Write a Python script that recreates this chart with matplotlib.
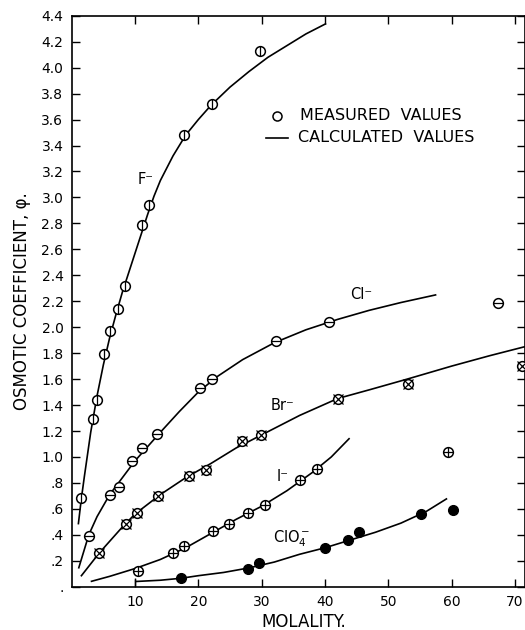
import numpy as np
import matplotlib as mpl
mpl.use('Agg')
import matplotlib.pyplot as plt

# measured values (molality, osmotic coefficient)
F_m = [1.47, 3.41, 4.04, 5.1, 6.05, 7.36, 8.42, 11.1, 12.2, 17.8, 22.1, 29.8]
F_phi = [0.68, 1.29, 1.44, 1.79, 1.97, 2.14, 2.32, 2.79, 2.94, 3.48, 3.72, 4.13]

Cl_m = [2.66, 6.0, 7.4, 9.6, 11.1, 13.5, 20.2, 22.1, 32.3, 40.6, 67.4]
Cl_phi = [0.39, 0.71, 0.77, 0.97, 1.07, 1.18, 1.53, 1.60, 1.89, 2.04, 2.19]

Br_m = [4.35, 8.5, 10.3, 13.6, 18.6, 21.2, 26.9, 29.9, 42.0, 53.1, 71.1]
Br_phi = [0.26, 0.48, 0.57, 0.70, 0.85, 0.90, 1.12, 1.17, 1.45, 1.56, 1.70]

I_m = [10.4, 16.0, 17.8, 22.3, 24.8, 27.9, 30.6, 36.0, 38.8, 59.4]
I_phi = [0.12, 0.26, 0.31, 0.43, 0.48, 0.57, 0.63, 0.82, 0.91, 1.04]

ClO4_m = [17.25, 27.9, 29.6, 40.0, 43.7, 45.3, 55.2, 60.2]
ClO4_phi = [0.07, 0.14, 0.18, 0.30, 0.36, 0.42, 0.56, 0.59]

# calculated curves
F_calc_m = [1.04, 1.5, 2.0, 3.0, 4.0, 5.0, 6.0, 7.0, 8.0, 9.0, 10.0, 11.0, 12.0, 13.0, 14.0,
            16.0, 18.0, 20.0, 22.0, 25.0, 28.0, 31.0, 34.0, 37.0, 40.2]
F_calc_phi = [0.48, 0.67, 0.85, 1.19, 1.47, 1.71, 1.92, 2.10, 2.27, 2.42, 2.57, 2.72, 2.87, 3.01, 3.13,
              3.32, 3.48, 3.60, 3.71, 3.85, 3.97, 4.08, 4.17, 4.26, 4.34]

Cl_calc_m = [1.08, 2.7, 4.0, 6.0, 8.0, 10.0, 12.0, 14.0, 17.0, 20.0, 23.0, 27.0, 32.0, 37.0, 42.0, 47.0, 52.0, 57.6]
Cl_calc_phi = [0.14, 0.40, 0.54, 0.71, 0.84, 0.97, 1.08, 1.19, 1.35, 1.50, 1.62, 1.75, 1.88, 1.98, 2.06, 2.13, 2.19, 2.25]

Br_calc_m = [1.45, 4.35, 8.0, 10.0, 14.0, 18.0, 22.0, 26.0, 30.0, 36.0, 42.0, 47.2, 53.0, 60.0, 66.0, 71.6]
Br_calc_phi = [0.08, 0.26, 0.46, 0.56, 0.71, 0.84, 0.95, 1.07, 1.17, 1.32, 1.45, 1.52, 1.60, 1.70, 1.78, 1.85]

I_calc_m = [3.0, 6.0, 10.0, 14.0, 18.0, 22.0, 26.0, 30.0, 34.0, 38.0, 41.0, 43.9]
I_calc_phi = [0.04, 0.08, 0.14, 0.21, 0.30, 0.41, 0.52, 0.62, 0.74, 0.88, 1.00, 1.145]

ClO4_calc_m = [10.0, 14.0, 17.25, 20.0, 24.0, 28.0, 32.0, 36.0, 40.0, 44.0, 48.0, 52.0, 56.0, 59.3]
ClO4_calc_phi = [0.04, 0.05, 0.065, 0.085, 0.11, 0.145, 0.19, 0.25, 0.30, 0.36, 0.42, 0.49, 0.58, 0.68]

x_ticks = [10, 20, 30, 40, 50, 60, 70]
y_ticks = [round(0.2 * i, 1) for i in range(23)]

ion_labels = ['F⁻', 'Cl⁻', 'Br⁻', 'I⁻', 'ClO$_4^-$']
label_pos = [(11.6, 3.14), (45.8, 2.25), (33.3, 1.40), (33.3, 0.85), (34.7, 0.37)]

plt.rcParams['font.family'] = ['DejaVu Sans']

fig = plt.figure(figsize=(5.25, 6.3), dpi=100)
ax = fig.add_axes([0.1366, 0.0687, 0.8634, 0.9063])

lw = 1.2
ms = 7
for cm, cp in [(F_calc_m, F_calc_phi), (Cl_calc_m, Cl_calc_phi), (Br_calc_m, Br_calc_phi),
               (I_calc_m, I_calc_phi), (ClO4_calc_m, ClO4_calc_phi)]:
    ax.plot(cm, cp, color='black', lw=lw, solid_capstyle='butt', solid_joinstyle='round', zorder=2)
# little end bar on the perchlorate curve
ax.plot(ClO4_calc_m[0], ClO4_calc_phi[0], marker='|', ms=6, mew=1.0, color='black')

# open circle + inner symbol for each series
def measured(m, p, inner):
    ax.plot(m, p, ls='none', marker='o', ms=ms, mfc='white', mec='black', mew=1.1, zorder=3)
    ax.plot(m, p, ls='none', marker=inner, ms=ms * 0.95, mec='black', mew=0.9, zorder=4)

measured(F_m, F_phi, '|')
measured(Cl_m, Cl_phi, '_')
measured(Br_m, Br_phi, 'x')
measured(I_m, I_phi, '+')
ax.plot(ClO4_m, ClO4_phi, ls='none', marker='o', ms=ms, mfc='black', mec='black', zorder=3)

for t, (xx, yy) in zip(ion_labels, label_pos):
    ax.text(xx, yy, t, fontsize=10.5, ha='center', va='center')

# legend, drawn by hand
ax.plot([32.4], [3.63], ls='none', marker='o', ms=6.5, mfc='white', mec='black', mew=1.1)
ax.text(36.0, 3.63, 'MEASURED  VALUES', fontsize=11.5, ha='left', va='center')
ax.plot([30.7, 34.1], [3.46, 3.46], color='black', lw=lw)
ax.text(35.8, 3.46, 'CALCULATED  VALUES', fontsize=11.5, ha='left', va='center')

ax.set_xlim(0, 71.6)
ax.set_ylim(0, 4.4)
ax.set_xticks(x_ticks)
ax.set_xticklabels([str(v) for v in x_ticks])
ax.set_yticks(y_ticks)
ylabs = []
for v in y_ticks:
    if v == 0:
        ylabs.append('.')
    elif v < 1:
        ylabs.append(('%.1f' % v)[1:])
    else:
        ylabs.append('%.1f' % v)
ax.set_yticklabels(ylabs)
ax.tick_params(direction='in', length=6, width=1.0, top=True, right=True,
               labelsize=10, pad=6)
for s in ax.spines.values():
    s.set_linewidth(1.2)

ax.set_xlabel('MOLALITY.', fontsize=12)
ax.xaxis.set_label_coords(0.512, -0.062)
ax.xaxis.label.set_va('center')
ax.set_ylabel('OSMOTIC COEFFICIENT, φ.', fontsize=12)
ax.yaxis.set_label_coords(-0.11, 0.50)
ax.yaxis.label.set_va('center')

plt.savefig('out.png', dpi=100)
